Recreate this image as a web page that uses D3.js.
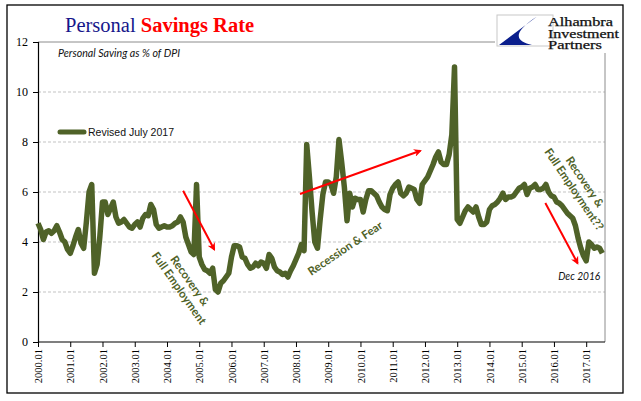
<!DOCTYPE html>
<html><head><meta charset="utf-8">
<script src="https://cdn.jsdelivr.net/npm/d3@7"></script>
<style>body{margin:0;background:#fff}svg{display:block}</style>
</head><body><svg id="c" width="641" height="401"></svg>
<script>
// ---- data ----
const years = d3.range(2000, 2018);
const tickLabels = years.map(y => y + ".01");
const savingRate = [
 4.75,4.5,4.1,4.4,4.45,4.35,4.45,4.65,4.4,4.1,4.0,3.7,
 3.55,3.85,4.2,4.5,3.95,3.75,4.8,6.0,6.3,2.75,3.1,4.2,
 5.6,5.6,5.1,5.35,5.6,5.0,4.75,4.8,4.9,4.75,4.6,4.55,
 4.7,4.8,4.6,4.95,5.1,5.05,5.5,5.3,4.7,4.55,4.6,4.65,
 4.6,4.6,4.65,4.75,4.8,5.0,4.8,4.2,3.9,3.6,3.5,6.3,
 3.4,3.1,2.9,2.85,2.75,2.95,2.1,2.0,2.35,2.45,2.6,2.75,
 3.4,3.85,3.85,3.8,3.4,3.35,3.1,2.95,3.0,3.15,3.05,3.2,
 3.15,2.95,3.5,3.35,3.0,2.85,2.8,2.7,2.75,2.6,2.85,3.05,
 3.3,3.55,3.9,3.65,7.9,6.6,5.2,4.0,3.75,4.9,5.9,6.4,
 6.4,6.3,5.95,6.6,8.1,7.2,6.2,4.85,5.95,5.4,5.75,5.7,
 5.7,5.2,5.7,6.05,6.05,5.95,5.85,5.6,5.4,5.3,5.25,5.9,
 6.15,6.3,6.4,5.95,5.85,5.95,6.2,6.15,6.1,5.7,5.55,6.3,
 6.45,6.6,6.85,7.1,7.4,7.6,7.2,7.1,7.1,7.5,8.3,11.0,
 4.9,4.75,5.0,5.25,5.4,5.3,5.2,5.4,5.0,4.7,4.7,4.8,
 5.3,5.45,5.5,5.6,5.75,5.95,5.7,5.8,5.8,5.85,6.0,6.15,
 6.2,6.3,5.9,6.15,6.2,6.3,6.1,6.1,6.15,6.3,6.0,5.85,
 5.8,5.6,5.55,5.45,5.3,5.15,5.05,4.95,4.65,4.15,3.75,3.45,
 3.25,4.0,3.9,3.75,3.8,3.75,3.55
];
const months = savingRate.map((v, i) => (2000 + Math.floor(i / 12)) + "." + String(i % 12 + 1).padStart(2, "0"));
const yTicks = [0, 2, 4, 6, 8, 10, 12];
const seriesName = "Revised July 2017";
// annotations (in data units: month index, percent)
const arrows = [
  {x1: 54, y1: 6.05, x2: 65.6, y2: 3.7},
  {x1: 97.5, y1: 5.92, x2: 142.3, y2: 7.65},
  {x1: 188.8, y1: 5.56, x2: 200.8, y2: 3.15}
];
const notes = [
  {x: 56.5, y: 2.45, rot: 55, lines: ["Recovery &", "Full Employment"]},
  {x: 114.3, y: 3.75, rot: -34, lines: ["Recession & Fear"]},
  {x: 203.5, y: 6.4, rot: 56, lines: ["Recovery &", "Full Employment??"]}
];

// ---- layout ----
const svg = d3.select("#c");
const L = 38, R = 605, T = 42, B = 342;
const olive = "#4f6228";
const x = d3.scaleLinear().domain([0, 211]).range([L, R]);
const y = d3.scaleLinear().domain([0, 12]).range([B, T]);

svg.append("rect").attr("x", 7).attr("y", 5).attr("width", 616).attr("height", 388)
  .attr("fill", "#fff").attr("stroke", "#000").attr("stroke-width", 1.3);

// title
const title = svg.append("text").attr("x", 65).attr("y", 32)
  .attr("font-family", "Liberation Serif, Times New Roman, serif").attr("font-size", 20.5);
title.append("tspan").attr("fill", "#16168a").text("Personal ");
title.append("tspan").attr("fill", "#ff0000").attr("font-weight", "bold").text("Savings Rate");

// gridlines
svg.append("g").selectAll("line").data(yTicks.filter(d => d > 0 && d < 12)).join("line")
  .attr("x1", L).attr("x2", R).attr("y1", d => y(d)).attr("y2", d => y(d))
  .attr("stroke", "#b4b4b4").attr("stroke-width", 0.8).attr("stroke-dasharray", "3,2");
// plot border (top & right), interrupted by logo
svg.append("line").attr("x1", L).attr("x2", 495).attr("y1", y(12)).attr("y2", y(12))
  .attr("stroke", "#8c8c8c").attr("stroke-width", 1);
svg.append("line").attr("x1", R).attr("x2", R).attr("y1", 53).attr("y2", B)
  .attr("stroke", "#8c8c8c").attr("stroke-width", 1);

// axes
const yAxis = svg.append("g").attr("transform", `translate(${L},0)`)
  .call(d3.axisLeft(y).tickValues(yTicks).tickSize(5).tickPadding(5).tickFormat(d3.format("d")));
const xAxis = svg.append("g").attr("transform", `translate(0,${B})`)
  .call(d3.axisBottom(x).tickValues(years.map((_, i) => i * 12)).tickSize(5)
    .tickFormat((d, i) => tickLabels[i]));
[yAxis, xAxis].forEach(a => {
  a.select(".domain").attr("stroke", "#000").attr("stroke-width", 1.2);
  a.selectAll(".tick line").attr("stroke", "#000");
  a.selectAll("text").attr("font-family", "Liberation Serif, Times New Roman, serif").attr("fill", "#000");
});
yAxis.selectAll("text").attr("font-size", 12);
xAxis.select(".domain").attr("d", `M${L},0H${R}`);
xAxis.selectAll("text").attr("font-size", 10.5)
  .attr("transform", "rotate(-90)").attr("text-anchor", "end")
  .attr("x", -7).attr("y", 0).attr("dy", "0.35em");

// subtitle
svg.append("text").attr("x", 58).attr("y", 57).attr("font-family", "Lato, sans-serif")
  .attr("font-style", "italic").attr("font-size", 10.5).attr("fill", "#111")
  .attr("textLength", 122).attr("lengthAdjust", "spacingAndGlyphs")
  .text("Personal Saving as % of DPI");

// series line
svg.append("path").datum(savingRate)
  .attr("d", d3.line().x((d, i) => x(i)).y(d => y(d)))
  .attr("fill", "none").attr("stroke", olive).attr("stroke-width", 5.5)
  .attr("stroke-linejoin", "round");

// legend
svg.append("line").attr("x1", 60).attr("x2", 84).attr("y1", 132).attr("y2", 132)
  .attr("stroke", olive).attr("stroke-width", 5).attr("stroke-linecap", "round");
svg.append("text").attr("x", 88).attr("y", 136).attr("font-family", "Liberation Sans, Arial, sans-serif")
  .attr("font-size", 11).attr("fill", "#111").attr("textLength", 86).attr("lengthAdjust", "spacingAndGlyphs")
  .text(seriesName);

// arrows
const defs = svg.append("defs");
defs.append("marker").attr("id", "ah").attr("viewBox", "0 0 10 10").attr("refX", 8).attr("refY", 5)
  .attr("markerWidth", 4).attr("markerHeight", 4).attr("orient", "auto")
  .append("path").attr("d", "M0,0L10,5L0,10L3,5Z").attr("fill", "#ff0000");
svg.append("g").selectAll("line").data(arrows).join("line")
  .attr("x1", d => x(d.x1)).attr("y1", d => y(d.y1)).attr("x2", d => x(d.x2)).attr("y2", d => y(d.y2))
  .attr("stroke", "#ff0000").attr("stroke-width", 2).attr("marker-end", "url(#ah)");

// notes
notes.forEach(n => {
  const g = svg.append("g").attr("transform", `translate(${x(n.x)},${y(n.y)}) rotate(${n.rot})`);
  n.lines.forEach((t, i) => g.append("text").attr("x", 0).attr("y", i * 13 + 4)
    .attr("text-anchor", "middle").attr("font-family", "Lato, sans-serif").attr("font-weight", "bold")
    .attr("font-size", 11.5).attr("fill", olive).text(t));
});
svg.append("text").attr("x", x(193.6)).attr("y", y(2.47)).attr("font-family", "Lato, sans-serif")
  .attr("font-style", "italic").attr("font-size", 10.5).attr("fill", "#111")
  .attr("textLength", 42).attr("lengthAdjust", "spacingAndGlyphs").text("Dec 2016");

// logo
const logo = svg.append("g");
logo.append("rect").attr("x", 497).attr("y", 15).attr("width", 56).attr("height", 31)
  .attr("fill", "#fff").attr("stroke", "#c8c8c8").attr("stroke-width", 1);
logo.append("path").attr("d", "M537,16.5 L499,45 L532,45 C517,42 510,34 537,16.5 Z").attr("fill", "#0a1e8c");
[["Alhambra", 65], ["Investment", 71], ["Partners", 54]].forEach(([t, w], i) =>
  logo.append("text").attr("x", 548).attr("y", 26 + i * 11.5)
    .attr("font-family", "Liberation Serif, Times New Roman, serif").attr("font-size", 11.5)
    .attr("textLength", w).attr("lengthAdjust", "spacingAndGlyphs")
    .attr("fill", "#111").attr("stroke", "#111").attr("stroke-width", 0.25).text(t));
</script></body></html>
